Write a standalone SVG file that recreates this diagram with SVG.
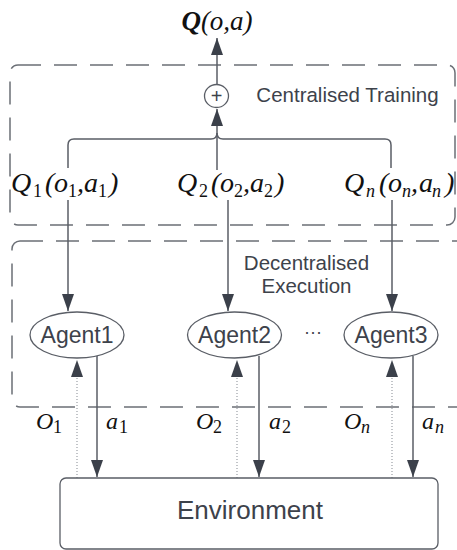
<svg xmlns="http://www.w3.org/2000/svg" width="457" height="550" viewBox="0 0 457 550">
<defs>
<marker id="ah" viewBox="0 0 17 12" refX="17" refY="6" markerWidth="17" markerHeight="12" markerUnits="userSpaceOnUse" orient="auto">
<path d="M0,0 L17,6 L0,12 Z" fill="#3b404a"/>
</marker>
</defs>
<style>
.dash{fill:none;stroke:#6b6f76;stroke-width:1.5;stroke-dasharray:23 13}
.ln{fill:none;stroke:#5a5e66;stroke-width:1.5}
.dot{fill:none;stroke:#9a9ea5;stroke-width:1.2;stroke-dasharray:1 2}
.node{fill:#fff;stroke:#5a5e66;stroke-width:1.3}
.sans{font-family:"Liberation Sans",Arial,sans-serif;fill:#3d424b}
.math{font-family:"Liberation Serif","Times New Roman",serif;font-style:italic;fill:#111}
.sub{font-size:18px;font-style:normal}
.subi{font-size:18px;font-style:italic}
</style>
<g id="containers">
<rect class="dash" x="10" y="65" width="445" height="160" rx="8"/>
<rect class="dash" x="12" y="241" width="460" height="166" rx="8"/>
<text class="sans" x="347.5" y="102" font-size="20.5" text-anchor="middle">Centralised Training</text>
<text class="sans" x="306.5" y="270" font-size="20.5" text-anchor="middle">Decentralised</text>
<text class="sans" x="306.5" y="293" font-size="20.5" text-anchor="middle">Execution</text>
</g>
<g id="connectors">
<line class="ln" x1="217" y1="84" x2="217" y2="38" marker-end="url(#ah)"/>
<line class="ln" x1="217" y1="170" x2="217" y2="109" marker-end="url(#ah)"/>
<path class="ln" d="M68,168 V145 Q68,139 74,139 H211 Q217,139 217,133"/>
<path class="ln" d="M391,168 V145 Q391,139 385,139 H223 Q217,139 217,133"/>
<line class="ln" x1="68" y1="200" x2="68" y2="311" marker-end="url(#ah)"/>
<line class="ln" x1="228" y1="200" x2="228" y2="311" marker-end="url(#ah)"/>
<line class="ln" x1="392" y1="200" x2="392" y2="311" marker-end="url(#ah)"/>
<line class="dot" x1="77" y1="478" x2="77" y2="375"/>
<line class="dot" x1="237" y1="478" x2="237" y2="375"/>
<line class="dot" x1="392" y1="478" x2="392" y2="375"/>
<path d="M71,377 L77,360 L83,377 Z" fill="#3b404a"/>
<path d="M231,377 L237,360 L243,377 Z" fill="#3b404a"/>
<path d="M386,377 L392,360 L398,377 Z" fill="#3b404a"/>
<line class="ln" x1="97" y1="356" x2="97" y2="477" marker-end="url(#ah)"/>
<line class="ln" x1="259" y1="356" x2="259" y2="477" marker-end="url(#ah)"/>
<line class="ln" x1="413" y1="356" x2="413" y2="477" marker-end="url(#ah)"/>
</g>
<g id="sum">
<ellipse class="node" cx="216.5" cy="96" rx="12" ry="11.5"/>
<text class="sans" x="216.5" y="103" font-size="20" text-anchor="middle">+</text>
</g>
<g id="Q-total">
<text class="math" x="217" y="30" font-size="27" text-anchor="middle"><tspan font-weight="bold">Q</tspan>(o,a)</text>
</g>
<g id="Q1">
<text class="math" y="192" font-size="28"><tspan x="11">Q</tspan><tspan class="sub" x="33" dy="5">1</tspan><tspan x="45" dy="-5">(</tspan><tspan x="54">o</tspan><tspan class="sub" x="68" dy="5">1</tspan><tspan x="77" dy="-5">,</tspan><tspan x="84">a</tspan><tspan class="sub" x="98" dy="5">1</tspan><tspan x="109" dy="-5">)</tspan></text>
</g>
<g id="Q2">
<text class="math" y="192" font-size="28"><tspan x="177">Q</tspan><tspan class="sub" x="199" dy="5">2</tspan><tspan x="211" dy="-5">(</tspan><tspan x="220">o</tspan><tspan class="sub" x="234" dy="5">2</tspan><tspan x="243" dy="-5">,</tspan><tspan x="250">a</tspan><tspan class="sub" x="264" dy="5">2</tspan><tspan x="275" dy="-5">)</tspan></text>
</g>
<g id="Qn">
<text class="math" y="192" font-size="28"><tspan x="344">Q</tspan><tspan class="subi" x="366" dy="5">n</tspan><tspan x="379" dy="-5">(</tspan><tspan x="388">o</tspan><tspan class="subi" x="402" dy="5">n</tspan><tspan x="411" dy="-5">,</tspan><tspan x="419">a</tspan><tspan class="subi" x="432" dy="5">n</tspan><tspan x="445" dy="-5">)</tspan></text>
</g>
<g id="agent1">
<ellipse class="node" cx="77" cy="335" rx="47" ry="23"/>
<text class="sans" x="77" y="343" font-size="23" text-anchor="middle">Agent1</text>
</g>
<g id="agent2">
<ellipse class="node" cx="234.5" cy="335" rx="47" ry="23"/>
<text class="sans" x="234.5" y="343" font-size="23" text-anchor="middle">Agent2</text>
</g>
<g id="agent3">
<ellipse class="node" cx="391" cy="335" rx="47" ry="23"/>
<text class="sans" x="391" y="343" font-size="23" text-anchor="middle">Agent3</text>
</g>
<text class="sans" x="313" y="338" font-size="18" text-anchor="middle">···</text>
<g id="edge-labels">
<text class="math" y="429" font-size="24"><tspan x="36">O</tspan><tspan class="sub" x="53" dy="4">1</tspan></text>
<text class="math" y="429" font-size="24"><tspan x="106">a</tspan><tspan class="sub" x="119" dy="4">1</tspan></text>
<text class="math" y="429" font-size="24"><tspan x="196">O</tspan><tspan class="sub" x="213" dy="4">2</tspan></text>
<text class="math" y="429" font-size="24"><tspan x="269">a</tspan><tspan class="sub" x="282" dy="4">2</tspan></text>
<text class="math" y="429" font-size="24"><tspan x="344">O</tspan><tspan class="subi" x="361" dy="4">n</tspan></text>
<text class="math" y="429" font-size="24"><tspan x="422">a</tspan><tspan class="subi" x="435" dy="4">n</tspan></text>
</g>
<g id="environment">
<rect class="node" x="60" y="478" width="378" height="71" rx="6"/>
<text class="sans" x="250" y="519" font-size="26" text-anchor="middle">Environment</text>
</g>
</svg>
